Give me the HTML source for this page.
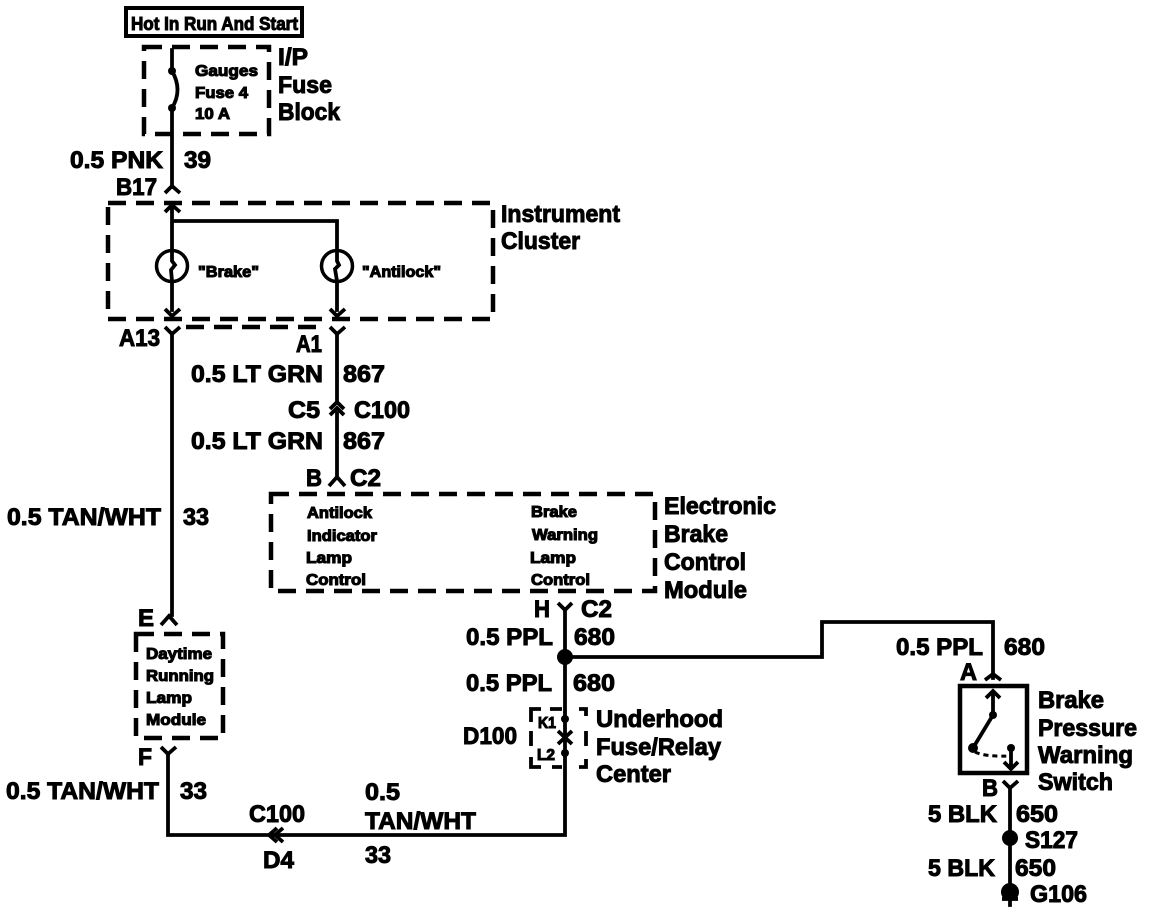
<!DOCTYPE html>
<html>
<head>
<meta charset="utf-8">
<style>
html,body{margin:0;padding:0;background:#fff;width:1152px;height:914px;overflow:hidden}
svg{display:block}
text{font-family:"Liberation Sans",sans-serif;font-weight:bold;fill:#000;stroke:#000}
.l{font-size:24px;stroke-width:1px}
.s{font-size:16px;stroke-width:1.1px}
.w{fill:none;stroke:#000;stroke-width:3.8;stroke-linecap:square}
.c{fill:none;stroke:#000;stroke-width:3.8}
.d{fill:none;stroke:#000;stroke-width:4.5;stroke-dasharray:18 10}
</style>
</head>
<body>
<svg width="1152" height="914" viewBox="0 0 1152 914" xmlns="http://www.w3.org/2000/svg">
<!-- boxes -->
<rect x="126" y="8" width="176" height="28" fill="none" stroke="#000" stroke-width="4"/>
<rect x="144" y="47" width="125" height="87" class="d"/>
<rect x="108" y="203" width="385" height="116" class="d"/>
<path d="M186 327H325" class="d"/>
<rect x="271" y="494" width="384" height="97" class="d"/>
<rect x="136" y="634" width="87" height="104" class="d" stroke-dasharray="16 12"/>
<path d="M541 709H531V722M531 731V746M531 757V767H541M579 709H586V716M586 731V746M586 759V767H579" class="c"/>
<path d="M550 709H562M552 767H562" class="c"/>
<rect x="960" y="686" width="67" height="87" fill="none" stroke="#000" stroke-width="4.5"/>
<!-- wires -->
<path class="w" d="M172 50V70M172 108V187"/>
<path d="M172 71Q183 90 172 108" class="c"/>
<circle cx="172" cy="71" r="4"/><circle cx="172" cy="108" r="4"/>
<path class="c" d="M165 193L172 186L180 193M165 212L172 205L180 212"/>
<path class="w" d="M172 207V310M172 221H337V310"/>
<circle cx="172" cy="266" r="15.5" fill="#fff" stroke="#000" stroke-width="3.5"/>
<circle cx="337" cy="266" r="15.5" fill="#fff" stroke="#000" stroke-width="3.5"/>
<path class="c" d="M172 251V261L175 265L171 270L172 281M337 251V261L339 265L335 269L337 281"/>
<path class="c" d="M165 309L172 316L180 309M330 309L337 316L345 309"/>
<path class="c" d="M165 327L172 334L180 327M330 327L337 334L345 327"/>
<path class="w" d="M172 334V615M337 334V402M337 413V476"/>
<path class="c" d="M330 409L337 402L344 409M330 415L337 408L344 415M329 486L337 477L345 486"/>
<path class="c" d="M161 625L169 616L177 625"/>
<path class="c" d="M161 747L168 754L176 747"/>
<path class="w" d="M168 754V835H565V610"/>
<path class="c" d="M558 603L565 610L572 603"/>
<path class="c" d="M283 828L275 835L283 842M277 828L269 835L277 842"/>
<circle cx="565" cy="657" r="8"/>
<path class="w" d="M565 657H822V622H993V678"/>
<path class="c" d="M985 680L993 674L1001 680"/>
<circle cx="565" cy="719" r="4"/><circle cx="565" cy="753" r="4"/>
<path class="c" d="M558 731L572 744M572 731L558 744"/>
<!-- switch internals -->
<path class="c" d="M986 698L993 691L1000 698"/>
<path class="w" d="M993 693V715L973 748"/>
<circle cx="993" cy="715" r="4"/><circle cx="973" cy="748" r="5"/>
<path d="M975 752Q985 757 1011 756" fill="none" stroke="#000" stroke-width="3" stroke-dasharray="5 4"/>
<circle cx="1011" cy="748" r="4"/>
<path class="w" d="M1011 748V768"/>
<path class="c" d="M1004 762L1011 769L1018 762"/>
<path class="c" d="M1003 781L1010 788L1018 781"/>
<path class="w" d="M1010 788V905"/>
<circle cx="1010" cy="838" r="8"/>
<circle cx="1010" cy="892" r="9"/>
<path class="c" d="M1002 899H1018"/>
<!-- large labels -->
<text x="131" y="30" font-size="18" stroke-width="1" textLength="167" lengthAdjust="spacingAndGlyphs">Hot In Run And Start</text>
<text class="l" x="278" y="65" textLength="30" lengthAdjust="spacingAndGlyphs">I/P</text>
<text class="l" x="278" y="93" textLength="54" lengthAdjust="spacingAndGlyphs">Fuse</text>
<text class="l" x="278" y="120" textLength="62" lengthAdjust="spacingAndGlyphs">Block</text>
<text class="l" x="70" y="168" textLength="93" lengthAdjust="spacingAndGlyphs">0.5 PNK</text>
<text class="l" x="184" y="168" textLength="27" lengthAdjust="spacingAndGlyphs">39</text>
<text class="l" x="116" y="195" textLength="41" lengthAdjust="spacingAndGlyphs">B17</text>
<text class="l" x="501" y="222" textLength="119" lengthAdjust="spacingAndGlyphs">Instrument</text>
<text class="l" x="501" y="249" textLength="79" lengthAdjust="spacingAndGlyphs">Cluster</text>
<text class="l" x="119" y="346" textLength="41" lengthAdjust="spacingAndGlyphs">A13</text>
<text class="l" x="296" y="352" textLength="26" lengthAdjust="spacingAndGlyphs">A1</text>
<text class="l" x="191" y="382" textLength="132" lengthAdjust="spacingAndGlyphs">0.5 LT GRN</text>
<text class="l" x="343" y="382" textLength="42" lengthAdjust="spacingAndGlyphs">867</text>
<text class="l" x="288" y="418" textLength="32" lengthAdjust="spacingAndGlyphs">C5</text>
<text class="l" x="354" y="418" textLength="56" lengthAdjust="spacingAndGlyphs">C100</text>
<text class="l" x="191" y="449" textLength="132" lengthAdjust="spacingAndGlyphs">0.5 LT GRN</text>
<text class="l" x="343" y="449" textLength="42" lengthAdjust="spacingAndGlyphs">867</text>
<text class="l" x="306" y="486" textLength="16" lengthAdjust="spacingAndGlyphs">B</text>
<text class="l" x="350" y="486" textLength="31" lengthAdjust="spacingAndGlyphs">C2</text>
<text class="l" x="7" y="525" textLength="154" lengthAdjust="spacingAndGlyphs">0.5 TAN/WHT</text>
<text class="l" x="183" y="525" textLength="26" lengthAdjust="spacingAndGlyphs">33</text>
<text class="l" x="664" y="514" textLength="112" lengthAdjust="spacingAndGlyphs">Electronic</text>
<text class="l" x="664" y="542" textLength="64" lengthAdjust="spacingAndGlyphs">Brake</text>
<text class="l" x="664" y="570" textLength="82" lengthAdjust="spacingAndGlyphs">Control</text>
<text class="l" x="664" y="598" textLength="83" lengthAdjust="spacingAndGlyphs">Module</text>
<text class="l" x="534" y="617" textLength="16" lengthAdjust="spacingAndGlyphs">H</text>
<text class="l" x="581" y="617" textLength="31" lengthAdjust="spacingAndGlyphs">C2</text>
<text class="l" x="466" y="645" textLength="87" lengthAdjust="spacingAndGlyphs">0.5 PPL</text>
<text class="l" x="574" y="645" textLength="41" lengthAdjust="spacingAndGlyphs">680</text>
<text class="l" x="466" y="691" textLength="86" lengthAdjust="spacingAndGlyphs">0.5 PPL</text>
<text class="l" x="573" y="691" textLength="42" lengthAdjust="spacingAndGlyphs">680</text>
<text class="l" x="463" y="744" textLength="54" lengthAdjust="spacingAndGlyphs">D100</text>
<text class="l" x="596" y="727" textLength="127" lengthAdjust="spacingAndGlyphs">Underhood</text>
<text class="l" x="596" y="755" textLength="125" lengthAdjust="spacingAndGlyphs">Fuse/Relay</text>
<text class="l" x="596" y="782" textLength="75" lengthAdjust="spacingAndGlyphs">Center</text>
<text class="l" x="138" y="626" textLength="16" lengthAdjust="spacingAndGlyphs">E</text>
<text class="l" x="138" y="765" textLength="14" lengthAdjust="spacingAndGlyphs">F</text>
<text class="l" x="6" y="799" textLength="153" lengthAdjust="spacingAndGlyphs">0.5 TAN/WHT</text>
<text class="l" x="180" y="799" textLength="27" lengthAdjust="spacingAndGlyphs">33</text>
<text class="l" x="249" y="822" textLength="56" lengthAdjust="spacingAndGlyphs">C100</text>
<text class="l" x="263" y="868" textLength="31" lengthAdjust="spacingAndGlyphs">D4</text>
<text class="l" x="365" y="800" textLength="35" lengthAdjust="spacingAndGlyphs">0.5</text>
<text class="l" x="365" y="829" textLength="111" lengthAdjust="spacingAndGlyphs">TAN/WHT</text>
<text class="l" x="365" y="863" textLength="26" lengthAdjust="spacingAndGlyphs">33</text>
<text class="l" x="896" y="655" textLength="87" lengthAdjust="spacingAndGlyphs">0.5 PPL</text>
<text class="l" x="1004" y="655" textLength="41" lengthAdjust="spacingAndGlyphs">680</text>
<text class="l" x="960" y="680" textLength="17" lengthAdjust="spacingAndGlyphs">A</text>
<text class="l" x="1038" y="708" textLength="66" lengthAdjust="spacingAndGlyphs">Brake</text>
<text class="l" x="1038" y="736" textLength="99" lengthAdjust="spacingAndGlyphs">Pressure</text>
<text class="l" x="1038" y="763" textLength="95" lengthAdjust="spacingAndGlyphs">Warning</text>
<text class="l" x="1038" y="790" textLength="75" lengthAdjust="spacingAndGlyphs">Switch</text>
<text class="l" x="982" y="796" textLength="16" lengthAdjust="spacingAndGlyphs">B</text>
<text class="l" x="928" y="822" textLength="69" lengthAdjust="spacingAndGlyphs">5 BLK</text>
<text class="l" x="1016" y="822" textLength="42" lengthAdjust="spacingAndGlyphs">650</text>
<text class="l" x="1025" y="848" textLength="53" lengthAdjust="spacingAndGlyphs">S127</text>
<text class="l" x="928" y="876" textLength="67" lengthAdjust="spacingAndGlyphs">5 BLK</text>
<text class="l" x="1015" y="876" textLength="41" lengthAdjust="spacingAndGlyphs">650</text>
<text class="l" x="1030" y="902" textLength="57" lengthAdjust="spacingAndGlyphs">G106</text>
<!-- small labels -->
<text class="s" x="195" y="76" textLength="63" lengthAdjust="spacingAndGlyphs">Gauges</text>
<text class="s" x="195" y="98" textLength="53" lengthAdjust="spacingAndGlyphs">Fuse 4</text>
<text class="s" x="195" y="119" textLength="35" lengthAdjust="spacingAndGlyphs">10 A</text>
<text class="s" x="198" y="277" textLength="61" lengthAdjust="spacingAndGlyphs">"Brake"</text>
<text class="s" x="362" y="277" textLength="79" lengthAdjust="spacingAndGlyphs">"Antilock"</text>
<text class="s" x="307" y="518" textLength="65" lengthAdjust="spacingAndGlyphs">Antilock</text>
<text class="s" x="307" y="541" textLength="70" lengthAdjust="spacingAndGlyphs">Indicator</text>
<text class="s" x="306" y="563" textLength="46" lengthAdjust="spacingAndGlyphs">Lamp</text>
<text class="s" x="306" y="585" textLength="60" lengthAdjust="spacingAndGlyphs">Control</text>
<text class="s" x="531" y="517" textLength="46" lengthAdjust="spacingAndGlyphs">Brake</text>
<text class="s" x="532" y="540" textLength="66" lengthAdjust="spacingAndGlyphs">Warning</text>
<text class="s" x="530" y="563" textLength="46" lengthAdjust="spacingAndGlyphs">Lamp</text>
<text class="s" x="531" y="585" textLength="59" lengthAdjust="spacingAndGlyphs">Control</text>
<text class="s" x="146" y="659" textLength="66" lengthAdjust="spacingAndGlyphs">Daytime</text>
<text class="s" x="146" y="681" textLength="68" lengthAdjust="spacingAndGlyphs">Running</text>
<text class="s" x="146" y="703" textLength="46" lengthAdjust="spacingAndGlyphs">Lamp</text>
<text class="s" x="146" y="725" textLength="60" lengthAdjust="spacingAndGlyphs">Module</text>
<text class="s" x="538" y="728" textLength="18" lengthAdjust="spacingAndGlyphs">K1</text>
<text class="s" x="537" y="760" textLength="18" lengthAdjust="spacingAndGlyphs">L2</text>
</svg>
</body>
</html>
